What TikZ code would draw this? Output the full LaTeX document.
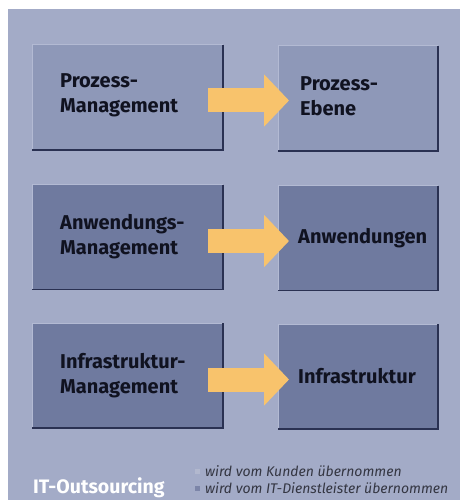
\documentclass[tikz,border=0pt]{standalone}
\usepackage{fontspec}
\setsansfont{Fira Sans}
\usetikzlibrary{calc,arrows.meta}
\definecolor{panel}{HTML}{A3ABC7}
\definecolor{boxlight}{HTML}{8E98B8}
\definecolor{boxdark}{HTML}{6F7A9F}
\definecolor{edgedark}{HTML}{2A3152}
\definecolor{edgelight}{HTML}{B3BAD3}
\definecolor{arrowc}{HTML}{F8C36C}
\definecolor{txt}{HTML}{101220}
\definecolor{legdark}{HTML}{7C85A8}
\definecolor{leglight}{HTML}{B2B8CE}
\tikzset{
  box/.style={minimum height=105pt, inner sep=0pt, outer sep=0pt},
  boxL/.style={box, minimum width=191pt},
  boxR/.style={box, minimum width=160pt},
  lbl/.style={font=\sffamily\bfseries\fontsize{20}{25}\selectfont, text=txt, align=left, anchor=west, inner sep=0pt},
  legtxt/.style={font=\sffamily\itshape\fontsize{14}{16}\selectfont, text=txt!85, anchor=west, inner sep=0pt},
  bigarrow/.style={draw=arrowc, line width=24pt, -{Triangle[width=51pt,length=25pt]}},
}
\newcommand{\boxedges}[1]{%
  \draw[edgelight, line width=1pt] (#1.south west) -- (#1.north west) -- (#1.north east);
  \draw[edgedark, line width=1.3pt] (#1.north east) -- (#1.south east) -- (#1.south west);
}
\begin{document}
\begin{tikzpicture}[x=1pt,y=-1pt]
\useasboundingbox (0,0) rectangle (460,500);
\fill[white] (0,0) rectangle (460,500);
\fill[panel] (8,9) rectangle (460,500);
% rows
\foreach \n/\yc/\col in {1/97.5/boxlight, 2/237/boxdark, 3/375.5/boxdark}{
  \node[boxL, fill=\col] (L\n) at (127.5,\yc) {};
  \node[boxR, fill=\col] (R\n) at (358,\yc+1) {};
  \boxedges{L\n}
  \boxedges{R\n}
}
\node[lbl] (t1) at ($(L1.west)+(28,-2)$) {Prozess-\\Management};
\node[lbl] (t2) at ($(R1.west)+(22,-2)$) {Prozess-\\Ebene};
\node[lbl] (t3) at ($(L2.west)+(28,0)$) {Anwendungs-\\Management};
\node[lbl] (t4) at ($(R2.west)+(20,0)$) {Anwendungen};
\node[lbl] (t5) at ($(L3.west)+(28,0)$) {Infrastruktur-\\Management};
\node[lbl] (t6) at ($(R3.west)+(20,0)$) {Infrastruktur};
% arrows
\draw[bigarrow] ($(L1.east)+(-15,3)$) -- ($(R1.west)+(11,2)$);
\draw[bigarrow] ($(L2.east)+(-15,4)$) -- ($(R2.west)+(11,3)$);
\draw[bigarrow] ($(L3.east)+(-15,4)$) -- ($(R3.west)+(11,3)$);
% legend
\node[font=\sffamily\bfseries\fontsize{19.5}{22}\selectfont, text=white, anchor=west, inner sep=0pt] (it) at (33,488) {IT-Outsourcing};
\node[fill=leglight, minimum size=5pt, inner sep=0pt] (q1) at (197,471) {};
\node[fill=legdark, minimum size=5pt, inner sep=0pt] (q2) at (197,488) {};
\node[legtxt] (g1) at (205,471) {wird vom Kunden übernommen};
\node[legtxt] (g2) at (205,488) {wird vom IT-Dienstleister übernommen};
\end{tikzpicture}
\end{document}
